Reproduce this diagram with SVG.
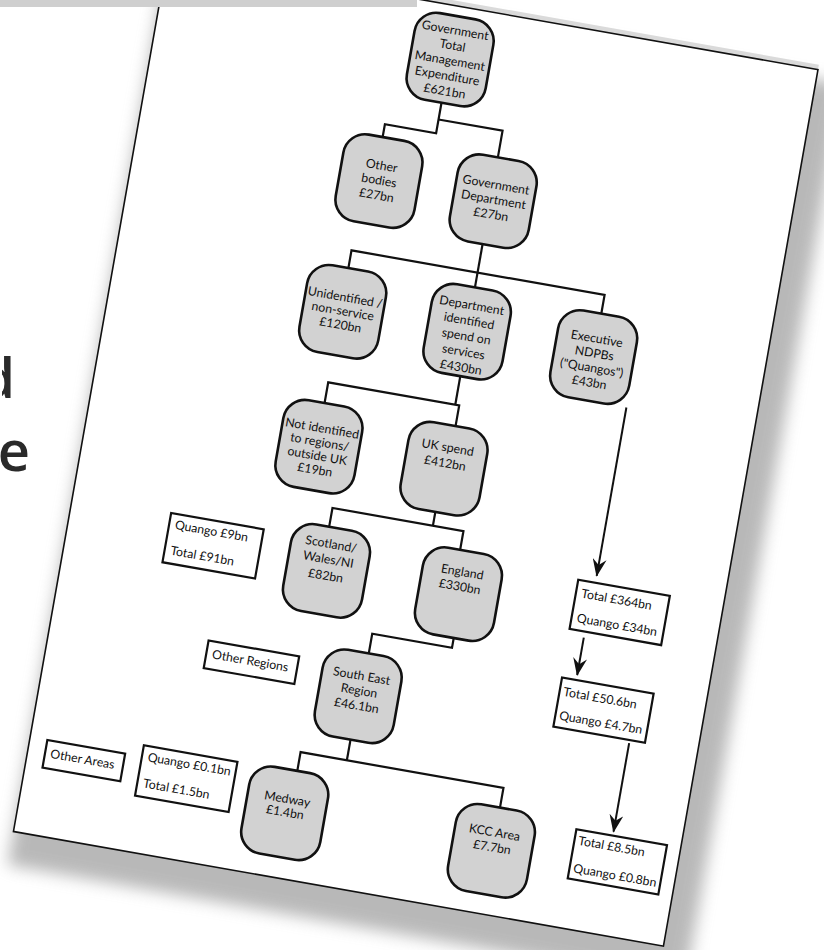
<svg xmlns="http://www.w3.org/2000/svg" width="824" height="950" viewBox="0 0 824 950">
<defs>
<style>
.node rect{fill:#d2d2d2;stroke:#111;stroke-width:2.6}
.node text,.box text{font-family:Lato,"Noto Sans",sans-serif;font-size:12.3px;fill:#111}
.node text{text-anchor:middle}
.box rect{fill:#fff;stroke:#111;stroke-width:2.2}
.conn path{fill:none;stroke:#111;stroke-width:2.2}
.conn .arrow{stroke-width:2;marker-end:url(#ah)}
.under{font-family:"Open Sans",sans-serif;font-weight:600;font-size:56px;fill:#2a2a2a;text-anchor:end}
</style>
<clipPath id="dclip"><rect x="2" y="340" width="30" height="70"/></clipPath>
<filter id="blur" x="-10%" y="-10%" width="120%" height="120%"><feGaussianBlur stdDeviation="8"/></filter>
<marker id="ah" markerUnits="userSpaceOnUse" markerWidth="18" markerHeight="14" viewBox="0 0 18 14" refX="17" refY="7" orient="auto"><path d="M0,0 L18,7 L0,14 L6,7 Z" fill="#111"/></marker>
</defs>
<rect width="824" height="950" fill="#fff"/>
<text class="under" x="15" y="398" clip-path="url(#dclip)">d</text>
<text class="under" x="30" y="471">e</text>
<g transform="translate(168,-45) rotate(10)">
  <rect x="0" y="10" width="688" height="914" fill="#8a8a8a" opacity="0.6" filter="url(#blur)"/>
  <rect x="0" y="-5" width="660" height="5" fill="#dadada"/>
  <rect id="page" x="0" y="0" width="660" height="890" fill="#fff" stroke="#111" stroke-width="1.6"/>
  <g id="connectors" class="conn">
    <path d="M295,98 V129 H243 V142"/>
    <path d="M295,115 H360 V142"/>
    <path d="M360,230 V259"/>
    <path d="M232,277 V259 H489 V278"/>
    <path d="M360,259 V274"/>
    <path d="M361,364 V393"/>
    <path d="M232,414 V393 H365 V414"/>
    <path d="M360,502 V516"/>
    <path d="M258,535 V516 H391 V535"/>
    <path d="M400,623 V633 H319 V653"/>
    <path d="M316,741 V762"/>
    <path d="M269,781 V762 H475 V782"/>
    <path class="arrow" d="M530,366 V537"/>
    <path class="arrow" d="M528,600 V638"/>
    <path class="arrow" d="M591,696 V786"/>
  </g>
  <g id="n-gtme" class="node"><rect x="256" y="10" width="80" height="88" rx="22"/>
    <text><tspan x="296" y="28.5">Government</tspan><tspan x="296" y="43.9">Total</tspan><tspan x="296" y="59.3">Management</tspan><tspan x="296" y="74.7">Expenditure</tspan><tspan x="296" y="90.1">£621bn</tspan></text></g>
  <g id="n-other-bodies" class="node"><rect x="207" y="142" width="80" height="88" rx="22"/>
    <text><tspan x="247" y="174.5">Other</tspan><tspan x="247" y="189.5">bodies</tspan><tspan x="247" y="204.5">£27bn</tspan></text></g>
  <g id="n-gov-dept" class="node"><rect x="323" y="142" width="80" height="88" rx="22"/>
    <text><tspan x="363" y="173.5">Government</tspan><tspan x="363" y="188.5">Department</tspan><tspan x="363" y="203.5">£27bn</tspan></text></g>
  <g id="n-unidentified" class="node"><rect x="194" y="277" width="80" height="88" rx="22"/>
    <text><tspan x="234" y="310.5">Unidentified /</tspan><tspan x="234" y="324.5">non-service</tspan><tspan x="234" y="338.5">£120bn</tspan></text></g>
  <g id="n-dept-identified" class="node"><rect x="320" y="274" width="80" height="90" rx="22"/>
    <text><tspan x="360" y="296.5">Department</tspan><tspan x="360" y="312.2">identified</tspan><tspan x="360" y="327.9">spend on</tspan><tspan x="360" y="343.6">services</tspan><tspan x="360" y="359.3">£430bn</tspan></text></g>
  <g id="n-ndpbs" class="node"><rect x="449" y="278" width="80" height="88" rx="22"/>
    <text><tspan x="489" y="307.5">Executive</tspan><tspan x="489" y="322.3">NDPBs</tspan><tspan x="489" y="337.1">("Quangos")</tspan><tspan x="489" y="351.9">£43bn</tspan></text></g>
  <g id="n-not-identified" class="node"><rect x="194" y="414" width="80" height="88" rx="22"/>
    <text><tspan x="234" y="443.5">Not identified</tspan><tspan x="234" y="457.5">to regions/</tspan><tspan x="234" y="471.5">outside UK</tspan><tspan x="234" y="485.5">£19bn</tspan></text></g>
  <g id="n-uk-spend" class="node"><rect x="321" y="414" width="80" height="88" rx="22"/>
    <text><tspan x="361" y="440.5">UK spend</tspan><tspan x="361" y="456.5">£412bn</tspan></text></g>
  <g id="n-scotland" class="node"><rect x="223" y="535" width="80" height="88" rx="22"/>
    <text><tspan x="263" y="556">Scotland/</tspan><tspan x="263" y="571.5">Wales/NI</tspan><tspan x="263" y="588">£82bn</tspan></text></g>
  <g id="n-england" class="node"><rect x="357" y="535" width="80" height="88" rx="22"/>
    <text><tspan x="397" y="560.5">England</tspan><tspan x="397" y="575.5">£330bn</tspan></text></g>
  <g id="n-south-east" class="node"><rect x="276" y="653" width="80" height="88" rx="22"/>
    <text><tspan x="316" y="680.5">South East</tspan><tspan x="316" y="695.5">Region</tspan><tspan x="316" y="710.5">£46.1bn</tspan></text></g>
  <g id="n-medway" class="node"><rect x="224" y="781" width="80" height="88" rx="22"/>
    <text><tspan x="264" y="814.5">Medway</tspan><tspan x="264" y="828">£1.4bn</tspan></text></g>
  <g id="n-kcc" class="node"><rect x="434" y="782" width="80" height="88" rx="22"/>
    <text><tspan x="474" y="811.5">KCC Area</tspan><tspan x="474" y="826.5">£7.7bn</tspan></text></g>
  <g id="b-scot-quango" class="box"><rect x="100" y="549" width="94" height="50"/>
    <text><tspan x="106" y="564">Quango £9bn</tspan><tspan x="106" y="590">Total £91bn</tspan></text></g>
  <g id="b-other-regions" class="box"><rect x="159" y="668" width="92" height="28"/>
    <text x="165" y="685">Other Regions</text></g>
  <g id="b-other-areas" class="box"><rect x="17.5" y="794" width="79" height="28"/>
    <text x="23" y="811">Other Areas</text></g>
  <g id="b-medway-quango" class="box"><rect x="113.5" y="782.5" width="95" height="51"/>
    <text><tspan x="119.5" y="797.5">Quango £0.1bn</tspan><tspan x="119.5" y="824">Total £1.5bn</tspan></text></g>
  <g id="b-uk-total" class="box"><rect x="512.5" y="544" width="93" height="50"/>
    <text><tspan x="518" y="561">Total £364bn</tspan><tspan x="518" y="586">Quango £34bn</tspan></text></g>
  <g id="b-se-total" class="box"><rect x="513.5" y="643" width="93" height="50"/>
    <text><tspan x="517.5" y="661">Total £50.6bn</tspan><tspan x="517.5" y="685">Quango £4.7bn</tspan></text></g>
  <g id="b-kcc-total" class="box"><rect x="554" y="790" width="92" height="50"/>
    <text><tspan x="558" y="805">Total £8.5bn</tspan><tspan x="558" y="833">Quango £0.8bn</tspan></text></g>
</g>
<rect x="0" y="0" width="417" height="7" fill="#cfcfcf"/>
</svg>
